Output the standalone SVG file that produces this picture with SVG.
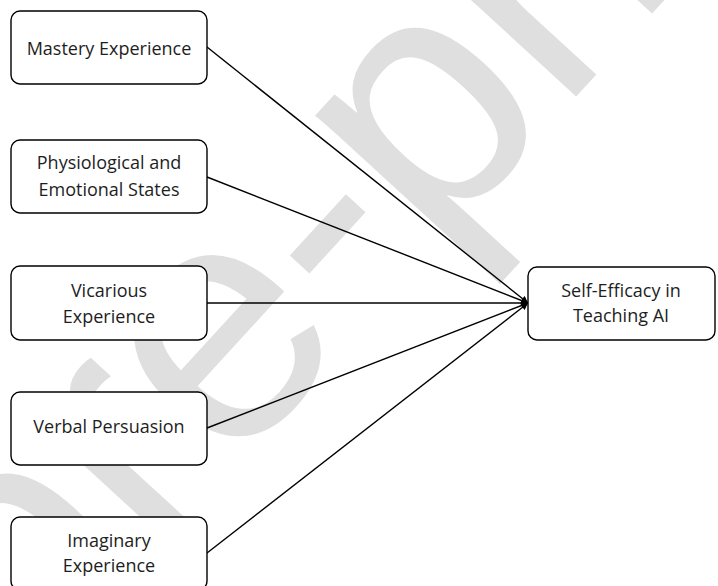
<svg xmlns="http://www.w3.org/2000/svg" width="718" height="586" viewBox="0 0 718 586">
<style>
.box{fill:#fff;stroke:#000;stroke-width:1.4}
.lbl{font-family:"Open Sans","Noto Sans",sans-serif;font-size:18px;fill:#1e1e1e;text-anchor:middle}
.edge{stroke:#000;stroke-width:1.4;fill:none}
.wm{font-family:"Liberation Sans",Arial,sans-serif;font-size:340px;fill:#dfdfdf}
</style>
<defs>
<marker id="arr" viewBox="0 0 10 10" refX="10" refY="5" markerWidth="7" markerHeight="7" markerUnits="userSpaceOnUse" orient="auto">
<path d="M0,0 L10,5 L0,10 Z" fill="#000"/>
</marker>
</defs>
<rect width="718" height="586" fill="#fff"/>
<g id="watermark" transform="translate(24,699) rotate(-47.5)">
<text class="wm" x="0" y="0">pre-print</text>
</g>
<g id="connectors">
<line class="edge" x1="207" y1="47" x2="528" y2="303" marker-end="url(#arr)"/>
<line class="edge" x1="207" y1="177" x2="528" y2="303" marker-end="url(#arr)"/>
<line class="edge" x1="207" y1="303" x2="528" y2="303" marker-end="url(#arr)"/>
<line class="edge" x1="207" y1="428" x2="528" y2="303" marker-end="url(#arr)"/>
<line class="edge" x1="207" y1="553" x2="528" y2="303" marker-end="url(#arr)"/>
</g>
<g id="mastery">
<rect class="box" x="11" y="11" width="196" height="73" rx="9"/>
<text class="lbl" x="109" y="55">Mastery Experience</text>
</g>
<g id="physiological">
<rect class="box" x="11" y="140" width="196" height="73" rx="9"/>
<text class="lbl" x="109" y="169">Physiological and</text>
<text class="lbl" x="109" y="196">Emotional States</text>
</g>
<g id="vicarious">
<rect class="box" x="11" y="266" width="196" height="74" rx="9"/>
<text class="lbl" x="109" y="297">Vicarious</text>
<text class="lbl" x="109" y="323">Experience</text>
</g>
<g id="verbal">
<rect class="box" x="11" y="392" width="196" height="73" rx="9"/>
<text class="lbl" x="109" y="433">Verbal Persuasion</text>
</g>
<g id="imaginary">
<rect class="box" x="11" y="517" width="196" height="73" rx="9"/>
<text class="lbl" x="109" y="547">Imaginary</text>
<text class="lbl" x="109" y="572">Experience</text>
</g>
<g id="selfefficacy">
<rect class="box" x="528" y="267" width="187" height="73" rx="9"/>
<text class="lbl" x="621" y="297">Self-Efficacy in</text>
<text class="lbl" x="621" y="322">Teaching AI</text>
</g>
</svg>
